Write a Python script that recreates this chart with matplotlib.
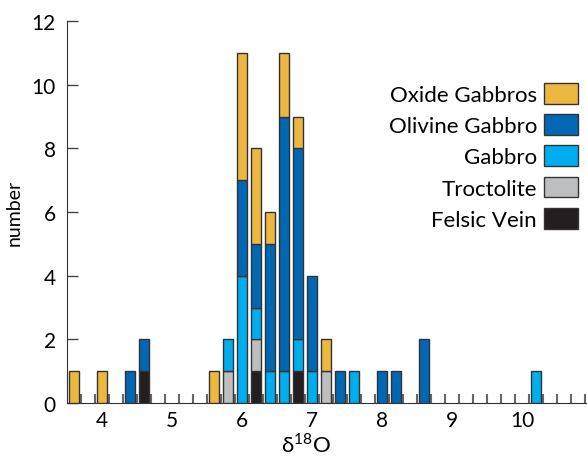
import numpy as np
import matplotlib
matplotlib.use('Agg')
import matplotlib.pyplot as plt

plt.rcParams['font.family'] = ['Lato', 'DejaVu Sans']
plt.rcParams['mathtext.fontset'] = 'custom'
plt.rcParams['mathtext.rm'] = 'Lato'

# bin centres (delta 18O) and counts per rock type
centers = [3.6, 4.0, 4.4, 4.6, 5.6, 5.8, 6.0, 6.2, 6.4, 6.6, 6.8, 7.0, 7.2, 7.4, 7.6, 8.0, 8.2, 8.6, 10.2]
felsic  = [0, 0, 0, 1, 0, 0, 0, 1, 0, 0, 1, 0, 0, 0, 0, 0, 0, 0, 0]
troct   = [0, 0, 0, 0, 0, 1, 0, 1, 0, 0, 0, 0, 1, 0, 0, 0, 0, 0, 0]
gabbro  = [0, 0, 0, 0, 0, 1, 4, 1, 1, 1, 1, 1, 0, 0, 1, 0, 0, 0, 1]
olivine = [0, 0, 1, 1, 0, 0, 3, 2, 4, 8, 6, 3, 0, 1, 0, 1, 1, 2, 0]
oxide   = [1, 1, 0, 0, 1, 0, 4, 3, 1, 2, 1, 0, 1, 0, 0, 0, 0, 0, 0]

series = [('Felsic Vein', felsic, '#231f20'),
          ('Troctolite', troct, '#bcbec0'),
          ('Gabbro', gabbro, '#00aeef'),
          ('Olivine Gabbro', olivine, '#0068b3'),
          ('Oxide Gabbros', oxide, '#ecb842')]

fig = plt.figure(figsize=(5.87, 4.6), dpi=100)
ax = fig.add_axes([67 / 587, 56 / 460, 525 / 587, 382 / 460])

x = np.array(centers)
bottom = np.zeros(len(x))
handles = []
for name, vals, col in series:
    v = np.array(vals, dtype=float)
    m = v > 0
    b = ax.bar(x[m], v[m], width=0.15, bottom=bottom[m], color=col,
               edgecolor='#333333', linewidth=1.0, zorder=3, label=name)
    handles.append(b)
    bottom += v

ax.set_xlim(3.5, 11)
ax.set_ylim(0, 12)
ax.set_yticks(range(0, 13, 2))
ax.set_xticks(range(4, 11))
ax.set_xticks(np.arange(3.7, 11.0, 0.2), minor=True)

ax.spines['top'].set_visible(False)
ax.spines['right'].set_visible(False)
ax.spines['left'].set_color('#333333')
ax.spines['bottom'].set_color('#333333')

ax.tick_params(axis='y', direction='in', length=8, width=1, color='#444444',
               labelsize=15, pad=8)
ax.tick_params(axis='x', which='major', length=0, labelsize=15, pad=5)
ax.tick_params(axis='x', which='minor', direction='in', length=6.5, width=1.5,
               color='#666666')

ax.set_ylabel('number', fontsize=14)
ax.yaxis.set_label_coords(-0.085, 0.5)
ax.set_xlabel(r'δ$^{18}$O', fontsize=16)
ax.xaxis.set_label_coords((306 - 67) / 525, -0.075)

leg = ax.legend(handles[::-1], [s[0] for s in series[::-1]],
                loc='upper right', bbox_to_anchor=(578 / 587, 1 - 84 / 460),
                bbox_transform=fig.transFigure, frameon=False, markerfirst=False,
                fontsize=16, handlelength=1.55, handleheight=1.05,
                handletextpad=0.3, labelspacing=0.42, borderpad=0, borderaxespad=0)

fig.savefig('out.png', dpi=100)
